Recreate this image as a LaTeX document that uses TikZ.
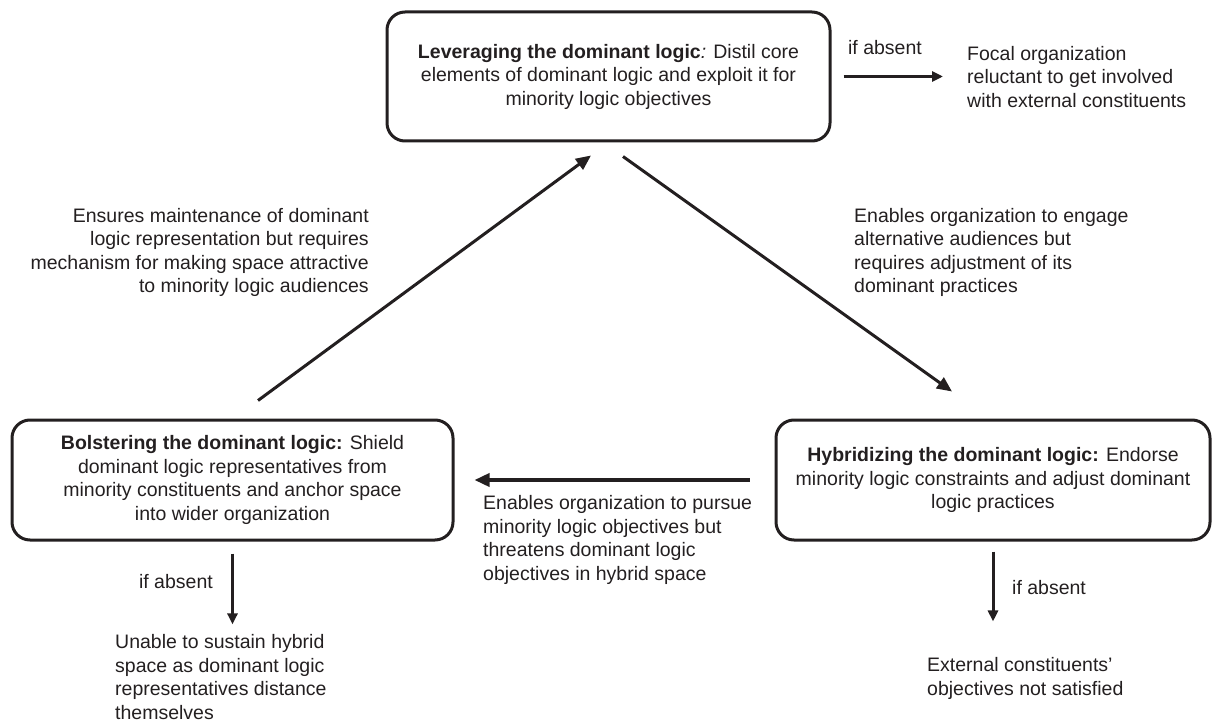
\documentclass[tikz,border=0pt]{standalone}
\usepackage{fontspec}
\setmainfont{Liberation Sans}
\usetikzlibrary{arrows.meta}
\definecolor{ink}{RGB}{35,31,32}

\begin{document}
\begin{tikzpicture}[x=1pt,y=-1pt,ink,
  stratbox/.style={draw,line width=3pt,rounded corners=18pt,minimum height=120pt,align=center,inner sep=0pt,font=\fontsize{19.5}{23.5}\selectfont},
  remark/.style={inner sep=0pt,font=\fontsize{19.5}{23.5}\selectfont},
  link/.style={line width=3pt,-{Triangle[length=15pt,width=13pt]}},
  fallback/.style={line width=3pt,-{Triangle[length=11pt,width=10pt]}}]
\useasboundingbox (0,0) rectangle (1212,722);
\node[stratbox,minimum width=443pt,minimum height=129pt] (lev) at (608.5,76.5) {\textbf{Leveraging the dominant logic}\textit{:} Distil core\\elements of dominant logic and exploit it for\\minority logic objectives};
\node[stratbox,minimum width=441pt] (bol) at (232.5,480) {\textbf{Bolstering the dominant logic:} Shield\\dominant logic representatives from\\minority constituents and anchor space\\into wider organization};
\node[stratbox,minimum width=434pt] (hyb) at (993,480) {\textbf{Hybridizing the dominant logic:} Endorse\\minority logic constraints and adjust dominant\\logic practices};
\node[remark,anchor=west,align=left] (focal) at (967,77) {Focal organization\\reluctant to get involved\\with external constituents};
\node[remark,anchor=west,align=left] (unable) at (115,677) {Unable to sustain hybrid\\space as dominant logic\\representatives distance\\themselves};
\node[remark,anchor=west,align=left] (extc) at (927,678.5) {External constituents'\\objectives not satisfied};
\node[remark,anchor=east,align=right] (ensures) at (369,252.5) {Ensures maintenance of dominant\\logic representation but requires\\mechanism for making space attractive\\to minority logic audiences};
\node[remark,anchor=west,align=left] (engage) at (854,252.5) {Enables organization to engage\\alternative audiences but\\requires adjustment of its\\dominant practices};
\node[remark,anchor=west,align=left] (pursue) at (483,540) {Enables organization to pursue\\minority logic objectives but\\threatens dominant logic\\objectives in hybrid space};
\node[remark] (absent1) at (885,48) {if absent};
\node[remark,anchor=east] (absent2) at (213,582) {if absent};
\node[remark,anchor=west] (absent3) at (1012,588) {if absent};
\draw[link] ([shift={(25.5,-18)}]bol.north) -- ([shift={(-17.5,13)}]lev.south);
\draw[link] ([shift={(14.5,14)}]lev.south) -- ([shift={(-41,-27)}]hyb.north);
\draw[link,line width=3.5pt,shorten <=25pt,shorten >=20pt] (hyb.west) -- (bol.east);
\draw[fallback,shorten <=12pt,shorten >=24pt] (lev.east) -- (lev.east -| focal.west);
\draw[fallback,shorten <=12pt,shorten >=10pt] (bol.south) -- (bol.south |- unable.north);
\draw[fallback,shorten <=10pt,shorten >=36pt] (hyb.south) -- (hyb.south |- extc.north);
\end{tikzpicture}
\end{document}
